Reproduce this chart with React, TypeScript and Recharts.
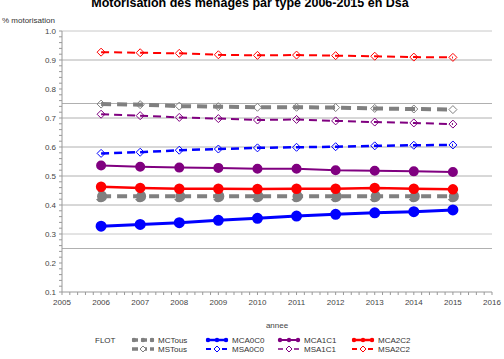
import React from "react";
import { LineChart, Line, XAxis, YAxis, ReferenceLine } from "recharts";

const years = [2006, 2007, 2008, 2009, 2010, 2011, 2012, 2013, 2014, 2015];

const mcTous = [0.430, 0.430, 0.430, 0.430, 0.430, 0.430, 0.430, 0.430, 0.430, 0.430];
const msTous = [0.748, 0.746, 0.741, 0.739, 0.737, 0.737, 0.736, 0.733, 0.731, 0.729];
const mcA0C0 = [0.327, 0.333, 0.339, 0.347, 0.354, 0.362, 0.368, 0.373, 0.377, 0.383];
const msA0C0 = [0.578, 0.582, 0.589, 0.593, 0.597, 0.599, 0.601, 0.604, 0.606, 0.607];
const mcA1C1 = [0.536, 0.532, 0.529, 0.528, 0.525, 0.525, 0.520, 0.518, 0.516, 0.514];
const msA1C1 = [0.713, 0.708, 0.702, 0.698, 0.693, 0.695, 0.690, 0.686, 0.683, 0.679];
const mcA2C2 = [0.463, 0.459, 0.456, 0.456, 0.455, 0.456, 0.456, 0.459, 0.456, 0.454];
const msA2C2 = [0.927, 0.925, 0.923, 0.918, 0.916, 0.917, 0.915, 0.913, 0.910, 0.909];

const yMajor = [0.1, 0.2, 0.3, 0.4, 0.5, 0.6, 0.7, 0.8, 0.9, 1.0];
const xMajor = [2005, 2006, 2007, 2008, 2009, 2010, 2011, 2012, 2013, 2014, 2015, 2016];
const gridLines = [0.25, 0.3, 0.4, 0.5, 0.6, 0.7, 0.75, 0.9];

const data = years.map((y, i) => ({
  annee: y,
  MCTous: mcTous[i],
  MSTous: msTous[i],
  MCA0C0: mcA0C0[i],
  MSA0C0: msA0C0[i],
  MCA1C1: mcA1C1[i],
  MSA1C1: msA1C1[i],
  MCA2C2: mcA2C2[i],
  MSA2C2: msA2C2[i],
}));

// minor ticks in between the labelled ones
const yTicks: number[] = [];
for (let i = 0; i < yMajor.length - 1; i++) {
  for (let k = 0; k < 5; k++) yTicks.push(Math.round((yMajor[i] + k * 0.02) * 100) / 100);
}
yTicks.push(1.0);
const xTicks: number[] = [];
for (let i = 0; i < xMajor.length - 1; i++) {
  for (let k = 0; k < 5; k++) xTicks.push(Math.round((xMajor[i] + k * 0.2) * 10) / 10);
}
xTicks.push(2016);

const FONT = "'Liberation Sans', Arial, sans-serif";
const GREY = "#808080";
const BLUE = "#0000ff";
const PURPLE = "#800080";
const RED = "#ff0000";

const isMajor = (v: number) => Math.abs(v * 10 - Math.round(v * 10)) < 1e-6;

const YTick = (props: any) => {
  const { x, y, payload } = props;
  if (!isMajor(payload.value)) return <g />;
  return (
    <text x={x} y={y} dy={3} textAnchor="end" fontSize={8} fill="#444" fontFamily={FONT}>
      {payload.value.toFixed(1)}
    </text>
  );
};

const XTick = (props: any) => {
  const { x, y, payload } = props;
  if (!Number.isInteger(payload.value)) return <g />;
  return (
    <text x={x} y={y} dy={8} textAnchor="middle" fontSize={8} fill="#444" fontFamily={FONT}>
      {payload.value}
    </text>
  );
};

const Diamond = (color: string) => (props: any) => {
  const { cx, cy, index } = props;
  if (cx == null || cy == null) return <g key={index} />;
  return (
    <polygon
      key={index}
      points={`${cx - 4},${cy} ${cx},${cy - 4} ${cx + 4},${cy} ${cx},${cy + 4}`}
      fill="none"
      stroke={color}
      strokeWidth={1}
    />
  );
};

const legendItems = [
  { name: "MCTous", color: GREY, filled: true, dash: "6 3", w: 3.5, col: 0, row: 0 },
  { name: "MSTous", color: GREY, filled: false, dash: "6 3", w: 3.5, col: 0, row: 1 },
  { name: "MCA0C0", color: BLUE, filled: true, dash: undefined, w: 2.5, col: 1, row: 0 },
  { name: "MSA0C0", color: BLUE, filled: false, dash: "5 3", w: 2, col: 1, row: 1 },
  { name: "MCA1C1", color: PURPLE, filled: true, dash: undefined, w: 2, col: 2, row: 0 },
  { name: "MSA1C1", color: PURPLE, filled: false, dash: "5 3", w: 1.5, col: 2, row: 1 },
  { name: "MCA2C2", color: RED, filled: true, dash: undefined, w: 2.5, col: 3, row: 0 },
  { name: "MSA2C2", color: RED, filled: false, dash: "5 3", w: 2, col: 3, row: 1 },
];
const colX = [132, 206, 278, 352];

export default function App() {
  return (
    <div style={{ position: "absolute", left: 0, top: 0, width: 504, height: 359, background: "#fff", fontFamily: FONT }}>
      <div style={{ position: "absolute", left: 0, width: 500, top: -4, textAlign: "center", fontSize: 12.5, fontWeight: "bold", color: "#000" }}>
        Motorisation des ménages par type 2006-2015 en Dsa
      </div>
      <div style={{ position: "absolute", left: 2, top: 16, fontSize: 8, color: "#333" }}>% motorisation</div>

      <LineChart width={504} height={359} data={data} margin={{ top: 31, right: 12, bottom: 27, left: 0 }}>
        <XAxis
          dataKey="annee"
          type="number"
          domain={[2005, 2016]}
          ticks={xTicks}
          interval={0}
          tick={<XTick />}
          tickSize={3}
          tickMargin={2}
          stroke="#999"
          height={40}
          label={{ value: "annee", position: "insideBottom", offset: 4, fontSize: 8, fill: "#444", fontFamily: FONT }}
        />
        <YAxis
          type="number"
          domain={[0.1, 1.0]}
          ticks={yTicks}
          interval={0}
          tick={<YTick />}
          tickSize={3}
          tickMargin={3}
          stroke="#999"
          width={62}
          allowDataOverflow
        />
        <ReferenceLine y={1.0} stroke="#c8c8c8" />
        {gridLines.map((g) => (
          <ReferenceLine key={g} y={g} stroke={g === 0.3 ? "#c8c8c8" : "#b0b0b0"} strokeWidth={1} />
        ))}
        <Line dataKey="MCTous" stroke={GREY} strokeWidth={4} strokeDasharray="10 6" dot={{ r: 4, fill: GREY, stroke: GREY }} isAnimationActive={false} />
        <Line dataKey="MSTous" stroke={GREY} strokeWidth={4} strokeDasharray="10 6" dot={Diamond(GREY)} isAnimationActive={false} />
        <Line dataKey="MCA0C0" stroke={BLUE} strokeWidth={3} dot={{ r: 4, fill: BLUE, stroke: BLUE }} isAnimationActive={false} />
        <Line dataKey="MSA0C0" stroke={BLUE} strokeWidth={2.5} strokeDasharray="8 5" dot={Diamond(BLUE)} isAnimationActive={false} />
        <Line dataKey="MCA1C1" stroke={PURPLE} strokeWidth={2} dot={{ r: 4, fill: PURPLE, stroke: PURPLE }} isAnimationActive={false} />
        <Line dataKey="MSA1C1" stroke={PURPLE} strokeWidth={2} strokeDasharray="8 5" dot={Diamond(PURPLE)} isAnimationActive={false} />
        <Line dataKey="MCA2C2" stroke={RED} strokeWidth={2.5} dot={{ r: 4, fill: RED, stroke: RED }} isAnimationActive={false} />
        <Line dataKey="MSA2C2" stroke={RED} strokeWidth={2} strokeDasharray="8 5" dot={Diamond(RED)} isAnimationActive={false} />
      </LineChart>

      <svg style={{ position: "absolute", left: 0, top: 330 }} width={504} height={29}>
        <text x={95} y={13} fontSize={8} fill="#333" fontFamily={FONT}>FLOT</text>
        {legendItems.map((it) => {
          const x0 = colX[it.col];
          const cy = 10 + it.row * 9;
          const mid = x0 + 11;
          return (
            <g key={it.name}>
              <line x1={x0} x2={x0 + 22} y1={cy} y2={cy} stroke={it.color} strokeWidth={it.w} strokeDasharray={it.dash} />
              {it.filled ? (
                <>
                  <circle cx={x0 + 2} cy={cy} r={2.2} fill={it.color} />
                  <circle cx={mid} cy={cy} r={2.2} fill={it.color} />
                  <circle cx={x0 + 20} cy={cy} r={2.2} fill={it.color} />
                </>
              ) : (
                <polygon points={`${mid - 3},${cy} ${mid},${cy - 3} ${mid + 3},${cy} ${mid},${cy + 3}`} fill="#fff" stroke={it.color} strokeWidth={1} />
              )}
              <text x={x0 + 26} y={cy + 3} fontSize={8} fill="#333" fontFamily={FONT}>{it.name}</text>
            </g>
          );
        })}
      </svg>
    </div>
  );
}
